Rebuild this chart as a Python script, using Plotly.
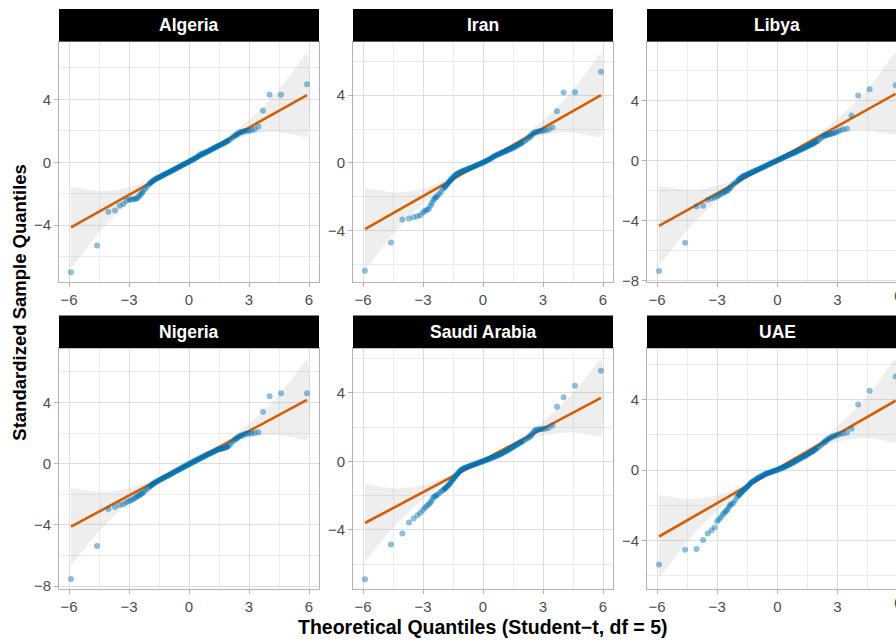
import plotly.graph_objects as go

countries = ["Algeria", "Iran", "Libya", "Nigeria", "Saudi Arabia", "UAE"]

# theoretical quantiles (Student-t, df = 5)
theo_q = [-5.9, -4.6, -4.03, -3.7, -3.47, -3.28, -3.13, -3.0, -2.9, -2.8, -2.71, -2.63, -2.56, -2.49, -2.42, -2.36, -2.3,
          -2.2, -2.1, -2.0, -1.9, -1.8, -1.7, -1.6, -1.5, -1.4, -1.3, -1.2, -1.1, -1.0, -0.9, -0.8, -0.7, -0.6, -0.5,
          -0.4, -0.3, -0.2, -0.1, 0.0, 0.1, 0.2, 0.3, 0.4, 0.5, 0.6, 0.7, 0.8, 0.9, 1.0, 1.1, 1.2, 1.3, 1.4, 1.5, 1.6,
          1.7, 1.8, 1.9, 2.0, 2.1, 2.2,
          2.3, 2.36, 2.42, 2.49, 2.56, 2.63, 2.71, 2.8, 2.9, 3.0, 3.13, 3.28, 3.47, 3.7, 4.03, 4.6, 5.9]

sample_algeria = [-6.99, -5.28, -3.14, -3.07, -2.76, -2.65, -2.45, -2.38, -2.36, -2.35, -2.33, -2.30, -2.25, -2.15, -2.05, -1.95, -1.85,
                  -1.70, -1.55, -1.40, -1.27, -1.17, -1.09, -1.02, -0.96, -0.90, -0.83, -0.76, -0.70, -0.63, -0.57, -0.50, -0.44, -0.37, -0.30, -0.23, -0.16, -0.10, -0.03,
                  0.04,
                  0.11, 0.18, 0.26, 0.34, 0.45, 0.52, 0.57, 0.62, 0.67, 0.73, 0.80, 0.87, 0.94, 1.00, 1.06, 1.12, 1.18, 1.25, 1.32, 1.40, 1.50, 1.60,
                  1.68, 1.74, 1.80, 1.85, 1.90, 1.93, 1.96, 1.98, 2.00, 2.02, 2.05, 2.10, 2.27, 3.28, 4.29, 4.29, 4.95]
sample_iran = [-6.36, -4.70, -3.34, -3.28, -3.20, -3.14, -3.08, -2.92, -2.82, -2.77, -2.70, -2.52, -2.38, -2.20, -2.10, -2.03, -1.96,
               -1.85, -1.72, -1.52, -1.40, -1.27, -1.10, -0.95, -0.82, -0.72, -0.64, -0.57, -0.51, -0.46, -0.41, -0.37, -0.33, -0.28, -0.23, -0.18, -0.13, -0.08, -0.04,
               0.01,
               0.07, 0.13, 0.20, 0.27, 0.35, 0.42, 0.48, 0.53, 0.58, 0.63, 0.68, 0.73, 0.78, 0.83, 0.89, 0.95, 1.02, 1.09, 1.16, 1.24, 1.32, 1.40,
               1.50, 1.56, 1.64, 1.72, 1.78, 1.82, 1.85, 1.88, 1.90, 1.91, 1.94, 1.98, 2.10, 3.06, 4.16, 4.18, 5.39]
sample_libya = [-7.38, -5.49, -3.08, -3.03, -2.62, -2.54, -2.47, -2.38, -2.30, -2.22, -2.16, -2.10, -2.06, -2.02, -1.92, -1.84, -1.74,
                -1.60, -1.49, -1.38, -1.24, -1.12, -1.05, -0.99, -0.93, -0.87, -0.81, -0.75, -0.69, -0.63, -0.57, -0.51, -0.45, -0.38, -0.32, -0.25, -0.19, -0.12, -0.06,
                0.01,
                0.07, 0.14, 0.20, 0.26, 0.32, 0.38, 0.44, 0.48, 0.54, 0.61, 0.68, 0.74, 0.80, 0.87, 0.94, 1.01, 1.07, 1.14, 1.22, 1.31, 1.41, 1.52,
                1.63, 1.66, 1.69, 1.72, 1.74, 1.77, 1.79, 1.82, 1.87, 1.93, 2.00, 2.09, 2.13, 3.01, 4.35, 4.77, 5.03]
sample_nigeria = [-7.52, -5.38, -2.96, -2.83, -2.70, -2.64, -2.52, -2.45, -2.39, -2.32, -2.24, -2.17, -2.11, -2.05, -1.99, -1.94, -1.89,
                  -1.76, -1.65, -1.53, -1.42, -1.31, -1.23, -1.16, -1.08, -1.01, -0.94, -0.87, -0.80, -0.73, -0.65, -0.58, -0.51, -0.43, -0.36, -0.29, -0.22, -0.14, -0.07,
                  0.00,
                  0.07, 0.14, 0.21, 0.28, 0.35, 0.41, 0.47, 0.54, 0.60, 0.65, 0.71, 0.76, 0.82, 0.90, 0.94, 0.97, 1.00, 1.04, 1.10, 1.20, 1.33, 1.47,
                  1.58, 1.64, 1.70, 1.76, 1.81, 1.85, 1.90, 1.94, 1.98, 1.99, 2.00, 2.02, 2.05, 3.39, 4.41, 4.61, 4.61]
sample_saudi = [-6.89, -4.85, -4.21, -3.57, -3.34, -3.15, -3.00, -2.84, -2.70, -2.59, -2.50, -2.40, -2.28, -2.10, -2.05, -2.01, -1.97,
                -1.86, -1.76, -1.68, -1.60, -1.50, -1.36, -1.20, -1.04, -0.88, -0.73, -0.60, -0.50, -0.43, -0.37, -0.32, -0.28, -0.24, -0.20, -0.16, -0.12, -0.08, -0.04,
                0.00,
                0.05, 0.09, 0.14, 0.18, 0.23, 0.28, 0.32, 0.38, 0.44, 0.50, 0.56, 0.63, 0.70, 0.77, 0.85, 0.92, 0.99, 1.06, 1.13, 1.20, 1.27, 1.34,
                1.42, 1.48, 1.55, 1.65, 1.76, 1.82, 1.85, 1.87, 1.89, 1.90, 1.92, 1.95, 2.10, 3.20, 3.75, 4.43, 5.30]
sample_uae = [-5.35, -4.51, -4.47, -3.96, -3.59, -3.40, -3.25, -2.90, -2.78, -2.65, -2.50, -2.40, -2.32, -2.24, -2.10, -1.97, -1.93,
              -1.86, -1.70, -1.50, -1.40, -1.26, -1.15, -1.05, -0.94, -0.82, -0.70, -0.62, -0.54, -0.46, -0.40, -0.34, -0.28, -0.22, -0.18, -0.14, -0.10, -0.06, -0.03,
              0.00,
              0.05, 0.10, 0.15, 0.20, 0.26, 0.32, 0.38, 0.43, 0.49, 0.56, 0.63, 0.69, 0.75, 0.81, 0.88, 0.96, 1.02, 1.10, 1.19, 1.27, 1.35, 1.44,
              1.54, 1.60, 1.66, 1.72, 1.78, 1.83, 1.88, 1.93, 1.97, 2.01, 2.05, 2.08, 2.12, 2.35, 3.72, 4.51, 5.31]

# reference line: sample value at theoretical -5.9 and +5.9
line_x = [-5.9, 5.9]
line_algeria = [-4.14, 4.27]
line_iran = [-3.90, 4.00]
line_libya = [-4.36, 4.46]
line_nigeria = [-4.11, 4.17]
line_saudi = [-3.60, 3.72]
line_uae = [-3.76, 3.94]

# confidence band half-width around the line
band_x = [-5.9, -5.2, -4.6, -4.0, -3.5, -3.0, -2.5, -2.0, -1.0, 0.0, 1.0, 2.0, 2.5, 3.0, 3.5, 4.0, 4.6, 5.2, 5.9]
band_algeria = [2.58, 1.95, 1.40, 0.98, 0.70, 0.48, 0.32, 0.21, 0.11, 0.09, 0.11, 0.21, 0.32, 0.48, 0.70, 0.98, 1.45, 2.00, 2.63]
band_iran = [2.40, 1.82, 1.30, 0.91, 0.65, 0.45, 0.30, 0.20, 0.10, 0.08, 0.10, 0.20, 0.30, 0.45, 0.65, 0.91, 1.35, 1.86, 2.45]
band_libya = [2.65, 2.00, 1.44, 1.00, 0.72, 0.50, 0.33, 0.22, 0.11, 0.09, 0.11, 0.22, 0.33, 0.50, 0.72, 1.00, 1.48, 2.05, 2.70]
band_nigeria = [2.52, 1.90, 1.37, 0.96, 0.68, 0.47, 0.31, 0.21, 0.11, 0.09, 0.11, 0.21, 0.31, 0.47, 0.68, 0.96, 1.42, 1.96, 2.58]
band_saudi = [2.26, 1.70, 1.22, 0.86, 0.61, 0.42, 0.28, 0.19, 0.10, 0.08, 0.10, 0.19, 0.28, 0.42, 0.61, 0.86, 1.22, 1.70, 2.24]
band_uae = [2.35, 1.77, 1.27, 0.89, 0.64, 0.44, 0.29, 0.19, 0.10, 0.08, 0.10, 0.19, 0.29, 0.44, 0.64, 0.89, 1.27, 1.77, 2.35]

x_ticks = [-6, -3, 0, 3, 6]
x_minor = [-4.5, -1.5, 1.5, 4.5]
y_ticks = [-8, -4, 0, 4]
y_minor = [-6, -2, 2, 6]

samples = [sample_algeria, sample_iran, sample_libya, sample_nigeria, sample_saudi, sample_uae]
lines = [line_algeria, line_iran, line_libya, line_nigeria, line_saudi, line_uae]
bands = [band_algeria, band_iran, band_libya, band_nigeria, band_saudi, band_uae]
for s in samples:
    assert len(s) == len(theo_q)

# ---------------- layout geometry (pixels) ----------------
W, H = 896, 643
col_px = [(59, 319), (353, 613), (647, 896)]
full_col3_right = 907
row_px = [(42, 285), (352, 595)]
strip_px = [(9, 42), (319, 352)]
y_ranges = [[-7.6, 7.67], [-7.02, 7.17], [-8.11, 7.95], [-8.15, 7.55], [-7.43, 6.62], [-6.71, 6.92]]
x_range_full = [-6.5, 6.5]
x_range_cut = [-6.5, 5.92]

GRID = "#DEDEDE"
MINOR = "#EBEBEB"
BORDER = "#B3B3B3"
TICKTXT = "#4D4D4D"
FONT = "Liberation Sans, Arial, sans-serif"

fig = go.Figure()
layout = {}
shapes = []
annotations = []

# dense central run of the sample (where points overlap into a solid band)
dense = [j for j, q in enumerate(theo_q) if -2.05 <= q <= 2.05]

for i, c in enumerate(countries):
    r, k = divmod(i, 3)
    n = i + 1
    xa = "x" if n == 1 else f"x{n}"
    ya = "y" if n == 1 else f"y{n}"
    x0, x1 = line_x
    y0, y1 = lines[i]
    ln = [y0 + (y1 - y0) * (bx - x0) / (x1 - x0) for bx in band_x]
    upper = [a + w for a, w in zip(ln, bands[i])]
    lower = [a - w for a, w in zip(ln, bands[i])]
    fig.add_trace(go.Scatter(
        x=band_x + band_x[::-1], y=upper + lower[::-1], fill="toself",
        fillcolor="rgba(170,170,170,0.2)", line=dict(width=0, shape="spline", smoothing=0.6),
        mode="lines", hoverinfo="skip", showlegend=False, xaxis=xa, yaxis=ya))
    fig.add_trace(go.Scatter(
        x=line_x, y=lines[i], mode="lines", line=dict(color="#D55E00", width=2.6),
        showlegend=False, xaxis=xa, yaxis=ya))
    fig.add_trace(go.Scatter(
        x=[theo_q[j] for j in dense], y=[samples[i][j] for j in dense], mode="lines",
        line=dict(color="rgba(0,114,178,0.8)", width=5), hoverinfo="skip",
        showlegend=False, xaxis=xa, yaxis=ya))
    fig.add_trace(go.Scatter(
        x=theo_q, y=samples[i], mode="markers",
        marker=dict(color="rgba(0,114,178,0.45)", size=6, line=dict(width=0)),
        showlegend=False, xaxis=xa, yaxis=ya))

    xd = [col_px[k][0] / W, col_px[k][1] / W]
    yd = [1 - row_px[r][1] / H, 1 - row_px[r][0] / H]
    common = dict(showgrid=True, gridcolor=GRID, gridwidth=1, zeroline=False,
                  showline=True, linecolor=BORDER, linewidth=1,
                  ticks="outside", ticklen=4, tickwidth=1, tickcolor=BORDER,
                  tickfont=dict(size=15, color=TICKTXT, family=FONT))
    layout["xaxis" if n == 1 else f"xaxis{n}"] = dict(
        domain=xd, anchor=ya, range=x_range_cut if k == 2 else x_range_full,
        tickmode="array", tickvals=x_ticks, mirror=True,
        minor=dict(tickvals=x_minor, showgrid=True, gridcolor=MINOR, gridwidth=1, ticks=""),
        **common)
    layout["yaxis" if n == 1 else f"yaxis{n}"] = dict(
        domain=yd, anchor=xa, range=y_ranges[i],
        tickmode="array", tickvals=y_ticks, mirror=(k != 2),
        minor=dict(tickvals=y_minor, showgrid=True, gridcolor=MINOR, gridwidth=1, ticks=""),
        **common)

    # strip
    sx0 = col_px[k][0]
    sx1 = col_px[k][1]
    shapes.append(dict(type="rect", xref="paper", yref="paper",
                       x0=sx0 / W, x1=sx1 / W,
                       y0=1 - strip_px[r][1] / H, y1=1 - strip_px[r][0] / H,
                       fillcolor="black", line=dict(width=0), layer="above"))
    cx = (sx0 + (full_col3_right if k == 2 else sx1)) / 2
    annotations.append(dict(text=f"<b>{c}</b>", x=cx / W, y=1 - (strip_px[r][0] + strip_px[r][1]) / 2 / H,
                            xref="paper", yref="paper", showarrow=False, xanchor="center", yanchor="middle",
                            font=dict(size=17.5, color="white", family=FONT)))
    if k == 2:
        # tick label "6" of the cropped right column, cut by the page edge as in the reference
        annotations.append(dict(text="6", x=897.5 / W, y=1 - (row_px[r][1] + 14) / H,
                                xref="paper", yref="paper", showarrow=False,
                                xanchor="center", yanchor="middle",
                                font=dict(size=15, color=TICKTXT, family=FONT)))

annotations.append(dict(text="<b>Theoretical Quantiles (Student\u2212t, df = 5)</b>",
                        x=482 / W, y=1 - 634 / H, xref="paper", yref="paper", showarrow=False,
                        xanchor="center", yanchor="middle", font=dict(size=19.5, color="black", family=FONT)))
annotations.append(dict(text="<b>Standardized Sample Quantiles</b>", textangle=-90,
                        x=20 / W, y=1 - 306 / H, xref="paper", yref="paper", showarrow=False,
                        xanchor="center", yanchor="middle", font=dict(size=18.5, color="black", family=FONT)))

fig.update_layout(width=W, height=H, margin=dict(l=0, r=0, t=0, b=0),
                  paper_bgcolor="white", plot_bgcolor="white",
                  font=dict(family=FONT), shapes=shapes, annotations=annotations, **layout)

fig.write_html("out.html")
